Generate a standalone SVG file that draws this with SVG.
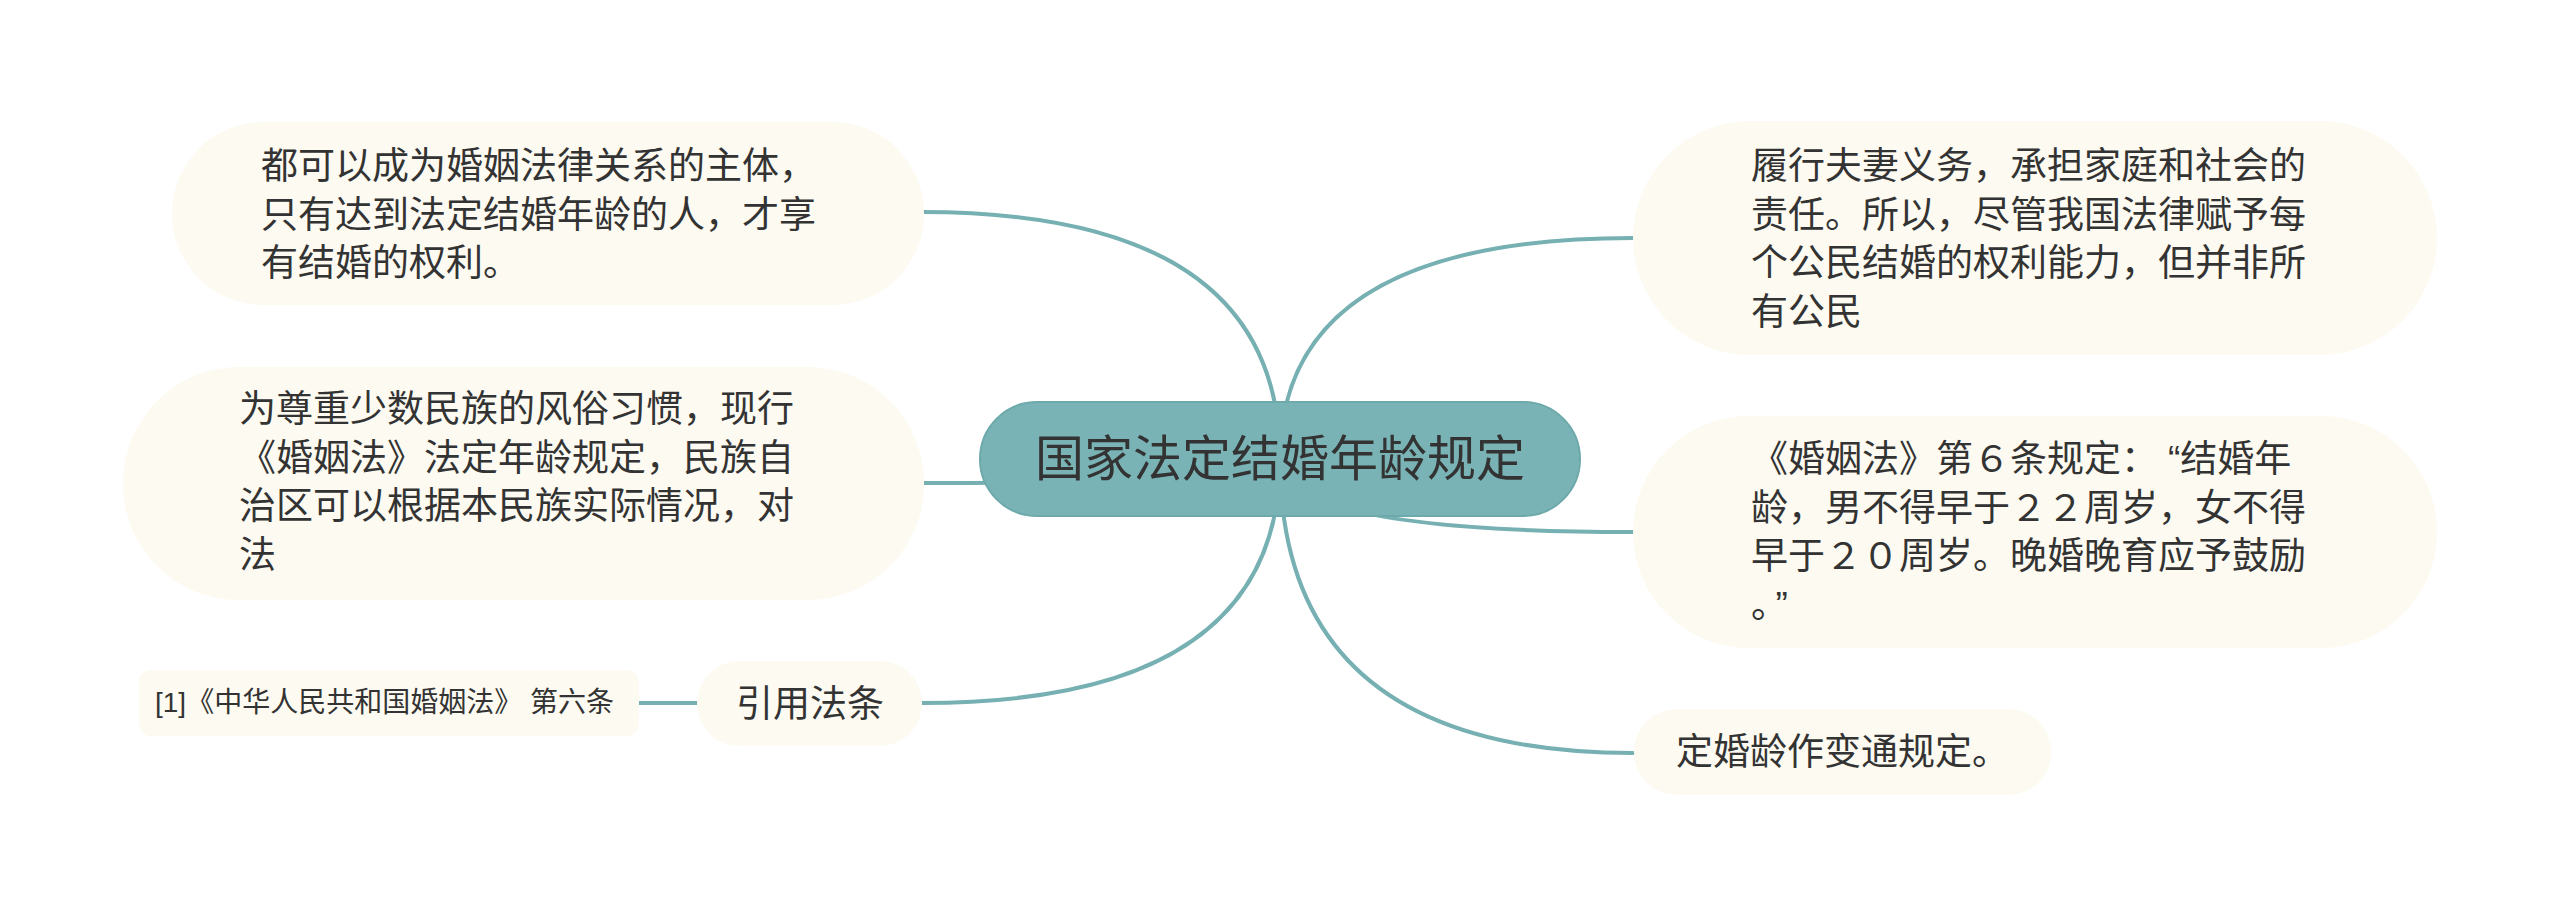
<svg xmlns="http://www.w3.org/2000/svg" width="2560" height="917" viewBox="0 0 2560 917">
<style>
.bg{fill:#ffffff}
.node{fill:#fcfaf1}
.center{fill:#79b3b5;stroke:#6ea9ab;stroke-width:2}
.conn{fill:none;stroke:#76b0b2;stroke-width:4;stroke-linecap:round}
text{font-family:"Liberation Sans","Noto Sans CJK SC",sans-serif;fill:#333333}
.t{font-size:37px}
.tc{font-size:49px;text-anchor:middle}
.ts{font-size:28px}
</style>
<rect class="bg" x="0" y="0" width="2560" height="917"/>
<g id="connectors">
<path class="conn" d="M1280,459 Q1280,212 922,212"/>
<path class="conn" d="M1280,459 Q1280,483 922,483"/>
<path class="conn" d="M1280,459 Q1280,703 922,703"/>
<path class="conn" d="M1280,459 Q1280,238 1633,238"/>
<path class="conn" d="M1280,459 Q1280,532 1633,532"/>
<path class="conn" d="M1280,459 Q1280,753 1633,753"/>
<path class="conn" d="M639,703 L697,703"/>
</g>
<g id="node-center">
<rect class="center" x="980" y="402" width="600" height="114" rx="57" ry="57"/>
<text class="tc" x="1280" y="476">国家法定结婚年龄规定</text>
</g>
<g id="node-left1">
<rect class="node" x="172" y="122" width="752" height="183" rx="91" ry="91"/>
<text class="t" x="261" y="179"><tspan x="261" y="179">都可以成为婚姻法律关系的主体，</tspan><tspan x="261" y="227.5">只有达到法定结婚年龄的人，才享</tspan><tspan x="261" y="276">有结婚的权利。</tspan></text>
</g>
<g id="node-left2">
<rect class="node" x="123" y="367" width="801" height="233" rx="116" ry="116"/>
<text class="t" x="239" y="422"><tspan x="239" y="422">为尊重少数民族的风俗习惯，现行</tspan><tspan x="239" y="470.5">《婚姻法》法定年龄规定，民族自</tspan><tspan x="239" y="519">治区可以根据本民族实际情况，对</tspan><tspan x="239" y="567.5">法</tspan></text>
</g>
<g id="node-cite">
<rect class="node" x="697" y="661" width="225" height="85" rx="42" ry="42"/>
<text class="t" x="810" y="717" text-anchor="middle">引用法条</text>
</g>
<g id="node-ref">
<rect class="node" x="139" y="670" width="500" height="66" rx="12" ry="12"/>
<text class="ts" x="155" y="712">[1]《中华人民共和国婚姻法》 第六条</text>
</g>
<g id="node-right1">
<rect class="node" x="1633" y="121" width="804" height="234" rx="117" ry="117"/>
<text class="t" x="1751" y="179"><tspan x="1751" y="179">履行夫妻义务，承担家庭和社会的</tspan><tspan x="1751" y="227.5">责任。所以，尽管我国法律赋予每</tspan><tspan x="1751" y="276">个公民结婚的权利能力，但并非所</tspan><tspan x="1751" y="324.5">有公民</tspan></text>
</g>
<g id="node-right2">
<rect class="node" x="1633" y="416" width="804" height="232" rx="116" ry="116"/>
<text class="t" x="1751" y="472"><tspan x="1751" y="472">《婚姻法》第６条规定：<tspan dx="10">“</tspan>结婚年</tspan><tspan x="1751" y="520.5">龄，男不得早于２２周岁，女不得</tspan><tspan x="1751" y="569">早于２０周岁。晚婚晚育应予鼓励</tspan><tspan x="1751" y="617.5">。<tspan dx="6">”</tspan></tspan></text>
</g>
<g id="node-right3">
<rect class="node" x="1634" y="709" width="417" height="86" rx="43" ry="43"/>
<text class="t" x="1676" y="765">定婚龄作变通规定。</text>
</g>
</svg>
